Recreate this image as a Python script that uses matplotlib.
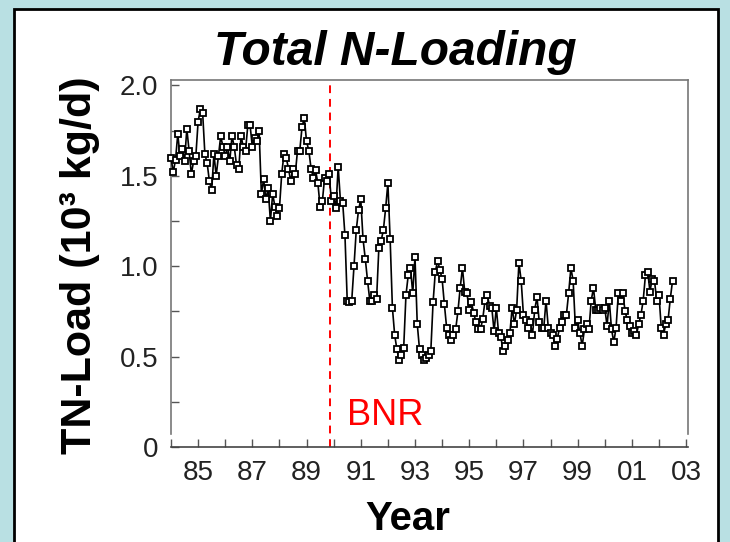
import numpy as np
import matplotlib
matplotlib.use("Agg")
import matplotlib.pyplot as plt
from matplotlib.patches import Rectangle
from matplotlib.ticker import MultipleLocator, FixedLocator

# monthly TN load (10^3 kg/d), Jan 1984 onward
tn_1984 = [1.60, 1.52, 1.59, 1.73, 1.61, 1.65, 1.58, 1.76, 1.64, 1.51, 1.58, 1.61]
tn_1985 = [1.80, 1.87, 1.85, 1.62, 1.57, 1.47, 1.42, 1.62, 1.50, 1.61, 1.72, 1.66]
tn_1986 = [1.61, 1.66, 1.58, 1.72, 1.66, 1.56, 1.54, 1.72, 1.66, 1.64, 1.78, 1.78]
tn_1987 = [1.66, 1.71, 1.69, 1.75, 1.40, 1.48, 1.37, 1.43, 1.25, 1.40, 1.33, 1.28]
tn_1988 = [1.32, 1.51, 1.62, 1.60, 1.54, 1.47, 1.54, 1.51, 1.64, 1.64, 1.77, 1.82]
tn_1989 = [1.69, 1.64, 1.54, 1.49, 1.53, 1.46, 1.33, 1.36, 1.49, 1.47, 1.51, 1.36]
tn_1990 = [1.39, 1.32, 1.55, 1.36, 1.35, 1.17, 0.81, 0.80, 0.81, 1.00, 1.20, 1.31]
tn_1991 = [1.37, 1.15, 1.04, 0.92, 0.81, 0.81, 0.84, 0.82, 1.10, 1.14, 1.20, 1.32]
tn_1992 = [1.46, 1.15, 0.77, 0.62, 0.54, 0.48, 0.51, 0.55, 0.84, 0.95, 0.99, 0.85]
tn_1993 = [1.05, 0.68, 0.54, 0.51, 0.48, 0.49, 0.51, 0.53, 0.80, 0.97, 1.03, 0.98]
tn_1994 = [0.93, 0.79, 0.66, 0.62, 0.59, 0.62, 0.65, 0.75, 0.88, 0.99, 0.86, 0.85]
tn_1995 = [0.76, 0.80, 0.74, 0.69, 0.65, 0.65, 0.71, 0.81, 0.84, 0.78, 0.77, 0.64]
tn_1996 = [0.77, 0.63, 0.61, 0.53, 0.56, 0.59, 0.63, 0.77, 0.68, 0.76, 1.02, 0.92]
tn_1997 = [0.73, 0.70, 0.66, 0.69, 0.62, 0.76, 0.83, 0.69, 0.66, 0.66, 0.81, 0.66]
tn_1998 = [0.63, 0.62, 0.56, 0.60, 0.66, 0.69, 0.73, 0.73, 0.85, 0.99, 0.92, 0.66]
tn_1999 = [0.70, 0.63, 0.56, 0.65, 0.68, 0.65, 0.81, 0.88, 0.76, 0.76, 0.77, 0.76]
tn_2000 = [0.77, 0.67, 0.81, 0.65, 0.58, 0.66, 0.85, 0.81, 0.85, 0.75, 0.70, 0.67]
tn_2001 = [0.63, 0.64, 0.62, 0.68, 0.73, 0.81, 0.95, 0.97, 0.86, 0.93, 0.92, 0.81]
tn_2002 = [0.84, 0.66, 0.62, 0.68, 0.70, 0.82, 0.92]

start_year = 1984
bnr_year = 1989.87
year_ticks = [1985, 1987, 1989, 1991, 1993, 1995, 1997, 1999, 2001, 2003]
year_labels = ["85", "87", "89", "91", "93", "95", "97", "99", "01", "03"]
y_ticks = [0, 0.5, 1.0, 1.5, 2.0]
y_labels = ["0", "0.5", "1.0", "1.5", "2.0"]

tn = np.array(tn_1984 + tn_1985 + tn_1986 + tn_1987 + tn_1988 + tn_1989 + tn_1990
              + tn_1991 + tn_1992 + tn_1993 + tn_1994 + tn_1995 + tn_1996 + tn_1997
              + tn_1998 + tn_1999 + tn_2000 + tn_2001 + tn_2002)
t = start_year + np.arange(len(tn)) / 12.0

narrow = ["Liberation Sans Narrow", "Liberation Sans", "DejaVu Sans"]
arial = ["Liberation Sans", "DejaVu Sans"]

fig = plt.figure(figsize=(7.3, 5.42), dpi=100)
fig.patch.set_facecolor("#b9e0e3")

# white panel with black border
panel = Rectangle((14 / 730, -0.05), (718 - 14) / 730, 1.05 - 9 / 542,
                  transform=fig.transFigure, facecolor="white",
                  edgecolor="black", linewidth=2, zorder=-1)
fig.patches.append(panel)

ax = fig.add_axes([171 / 730, 1 - 447 / 542, (688 - 171) / 730, (447 - 80) / 542])
ax.set_zorder(2)
ax.set_facecolor("white")

ax.plot(t, tn, color="black", linewidth=1.2, marker="s", markersize=5,
        markerfacecolor="white", markeredgecolor="black", markeredgewidth=1.3,
        clip_on=False, zorder=3)
ax.axvline(bnr_year, color="red", linestyle=(0, (4, 3)), linewidth=1.4, zorder=2)
ax.text(bnr_year + 0.62, 0.12, "BNR", color="red", fontsize=26,
        family=arial, ha="left", va="baseline")

ax.set_xlim(1984.0, 2003.07)
ax.set_ylim(0, 2.03)

ax.xaxis.set_major_locator(FixedLocator(year_ticks))
ax.xaxis.set_minor_locator(MultipleLocator(1))
ax.set_xticklabels(year_labels, family=narrow, fontsize=20, color="#222222")
ax.yaxis.set_major_locator(FixedLocator(y_ticks))
ax.yaxis.set_minor_locator(MultipleLocator(0.25))
ax.set_yticklabels(y_labels, family=narrow, fontsize=20, color="#222222")

ax.tick_params(axis="both", which="both", direction="in", color="#555555", width=1)
ax.tick_params(axis="x", which="both", length=6, pad=9)
ax.tick_params(axis="y", which="both", length=6, pad=9)

for side in ["left", "right", "top", "bottom"]:
    ax.spines[side].set_color("#777777")
    ax.spines[side].set_linewidth(1.2)
ax.spines["left"].set_bounds(0.07, 2.03)
ax.spines["right"].set_bounds(0.07, 2.03)
ax.spines["bottom"].set_color("#444444")

fig.text(395 / 730, 1 - 65 / 542, "Total N-Loading", fontsize=34.5,
         fontweight="bold", fontstyle="italic", family=arial,
         ha="center", va="baseline")
fig.text(80 / 730, 1 - 265 / 542, "TN-Load (10³ kg/d)", fontsize=31,
         fontweight="bold", family=arial, rotation=90,
         ha="center", va="center")
fig.text(408 / 730, 1 - 530 / 542, "Year", fontsize=29, fontweight="bold",
         family=arial, ha="center", va="baseline")

fig.savefig("out.png", dpi=100, facecolor=fig.get_facecolor())
